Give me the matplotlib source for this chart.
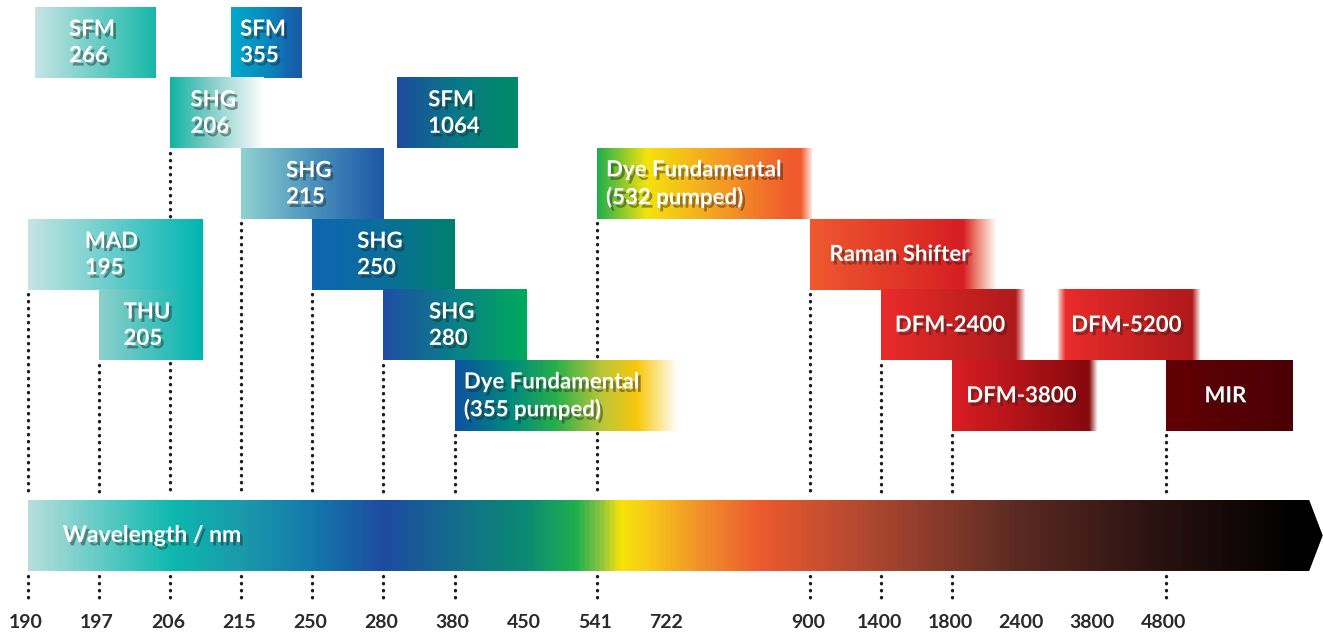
import numpy as np
import matplotlib
matplotlib.use("Agg")
import matplotlib.pyplot as plt
import matplotlib.patheffects as pe
from matplotlib.colors import LinearSegmentedColormap
from matplotlib.patches import Polygon

# ── Data ──────────────────────────────────────────────────────────────────────
# wavelength ticks (nm) and their slot index along the spectrum
tick_labels = ["190", "197", "206", "215", "250", "280", "380", "450",
               "541", "722", "900", "1400", "1800", "2400", "3800", "4800"]
tick_slots = [0, 1, 2, 3, 4, 5, 6, 7, 8, 9, 11, 12, 13, 14, 15, 16]
guide_slots = [0, 1, 2, 3, 4, 5, 6, 8, 11, 12, 13, 16]

# laser sources: label, start slot, end slot, row (0 = top)
box_labels = ["SFM\n266", "SFM\n355", "SHG\n206", "SFM\n1064", "SHG\n215",
              "Dye Fundamental\n(532 pumped)", "MAD\n195", "SHG\n250",
              "Raman Shifter", "THU\n205", "SHG\n280", "DFM-2400", "DFM-5200",
              "Dye Fundamental\n(355 pumped)", "DFM-3800", "MIR"]
box_start = [0.10, 2.86, 2.00, 5.19, 3.00, 8.00, 0.00, 4.00,
             11.00, 1.00, 5.00, 12.00, 14.49, 6.00, 13.00, 16.00]
box_end = [1.80, 3.85, 3.31, 6.89, 5.00, 11.02, 2.45, 6.00,
           13.62, 2.45, 7.02, 14.03, 16.50, 9.13, 15.04, 17.78]
box_row = [0, 0, 1, 1, 2, 2, 3, 3, 3, 4, 4, 4, 4, 5, 5, 5]

# gradient colour stops for each box
box_colors = [
    [(0, "#c6e4e3"), (1, "#17b8a9")],
    [(0, "#02a9cb"), (0.55, "#0a86bc"), (0.8, "#1467b0"), (1, "#1a5aa5")],
    [(0, "#10b3a5"), (0.45, "#86cfca"), (1, "#ffffff")],
    [(0, "#1d4c9f"), (0.5, "#087986"), (1, "#008b66")],
    [(0, "#90d2cf"), (0.5, "#4b93bd"), (1, "#1d57a6")],
    [(0, "#1fae4e"), (0.23, "#f4e30d"), (0.55, "#f5a222"), (0.9, "#ef5a2c"),
     (0.95, "#ef5a2c"), (1, "#fde4da")],
    [(0, "#c6e4e3"), (1, "#00b5b1")],
    [(0, "#0d66b1"), (0.5, "#0a6e9a"), (1, "#00806f")],
    [(0, "#ef5a2f"), (0.82, "#d71d22"), (0.9, "#ee8a78"), (1, "#ffffff")],
    [(0, "#8ed0cc"), (1, "#00b4af")],
    [(0, "#1f4da4"), (0.5, "#0a8088"), (1, "#00aa5b")],
    [(0, "#e92c2a"), (0.93, "#b0191b"), (1, "#ffffff")],
    [(0, "#fbd5d0"), (0.05, "#e92c2a"), (0.94, "#b0191b"), (1, "#ffffff")],
    [(0, "#0d51a0"), (0.25, "#008a7e"), (0.45, "#27ae4c"), (0.66, "#bcc638"),
     (0.82, "#f8c80c"), (1, "#ffffff")],
    [(0, "#d91e24"), (0.94, "#87090d"), (1, "#ffffff")],
    [(0, "#620004"), (1, "#4a0005")],
]
label_left = [False, False, False, False, False, True, False, False,
              False, False, False, False, False, True, False, False]

# spectrum colour stops (slot position, colour)
spec_pos = [0, 2.0, 3.0, 4.0, 5.0, 6.0, 7.0, 7.7, 8.05, 8.33, 8.75, 9.45,
            10.3, 12.0, 13.95, 15.9, 17.9, 18.21]
spec_col = ["#b5dedc", "#0eb8ae", "#1a99ab", "#1378aa", "#1e4ba0", "#136d8c",
            "#0b8a74", "#1eaf4f", "#8cc43e", "#f7e40a", "#f8c818", "#f1912a",
            "#ec5a2e", "#a84530", "#5a2a22", "#2a1210", "#000000", "#000000"]

# ── Plot ──────────────────────────────────────────────────────────────────────
plt.rcParams["font.family"] = ["Lato", "DejaVu Sans"]
fig = plt.figure(figsize=(13.23, 6.33), dpi=100)
ax = fig.add_axes([0, 0, 1, 1])
ax.set_xlim(-28 / 71.1, (1323 - 28) / 71.1)
ax.set_ylim((633 - 7) / 70.7, -7 / 70.7)
ax.axis("off")

shadow = [pe.withSimplePatchShadow(offset=(2, -2.5), shadow_rgbFace="#222222",
                                   alpha=0.45)]
grad = np.linspace(0, 1, 512).reshape(1, -1)

for lab, x0, x1, r, cols, left in zip(box_labels, box_start, box_end, box_row,
                                      box_colors, label_left):
    cmap = LinearSegmentedColormap.from_list("b", cols)
    ax.imshow(grad, cmap=cmap, extent=(x0, x1, r + 1, r), aspect="auto",
              interpolation="bilinear", zorder=2)
    if left:
        tx, ha = x0 + 0.13, "left"
    else:
        tx, ha = (x0 + x1) / 2 - 0.05, "center"
    ax.text(tx, r + 0.5, lab, ha=ha, va="center", multialignment="left",
            color="white", fontsize=16, fontweight="bold", linespacing=1.32,
            zorder=4, path_effects=shadow)

# dotted guides from box bottoms down to the spectrum
bar_top, bar_bot = 6.973, 7.977
dots = dict(color="#1e1e1e", lw=2.4, ls=(0, (0.1, 2.0)),
            dash_capstyle="round", zorder=1)
for s in guide_slots:
    top = max(r + 1 for x0, r in zip(box_start, box_row) if abs(x0 - s) < 0.05)
    ax.plot([s, s], [top + 0.06, bar_top - 0.06], **dots)
    ax.plot([s, s], [bar_bot + 0.07, bar_bot + 0.42], **dots)

# spectrum arrow
x_rect, x_tip = 18.02, 18.21
spec_cmap = LinearSegmentedColormap.from_list(
    "spec", [(p / spec_pos[-1], c) for p, c in zip(spec_pos, spec_col)])
im = ax.imshow(grad, cmap=spec_cmap, extent=(0, spec_pos[-1], bar_bot, bar_top),
               aspect="auto", interpolation="bilinear", zorder=2)
arrow = Polygon([(0, bar_top), (x_rect, bar_top), (x_tip, (bar_top + bar_bot) / 2),
                 (x_rect, bar_bot), (0, bar_bot)], closed=True,
                facecolor="none", edgecolor="none", transform=ax.transData)
ax.add_patch(arrow)
im.set_clip_path(arrow)
ax.text(0.49, (bar_top + bar_bot) / 2, "Wavelength / nm", ha="left", va="center",
        color="white", fontsize=16.5, fontweight="bold", zorder=4,
        path_effects=shadow)

for s, t in zip(tick_slots, tick_labels):
    ax.text(s - 0.03, 8.7, t, ha="center", va="center", color="#2a2a2a",
            fontsize=14, fontweight="bold")

fig.savefig("out.png", dpi=100)
